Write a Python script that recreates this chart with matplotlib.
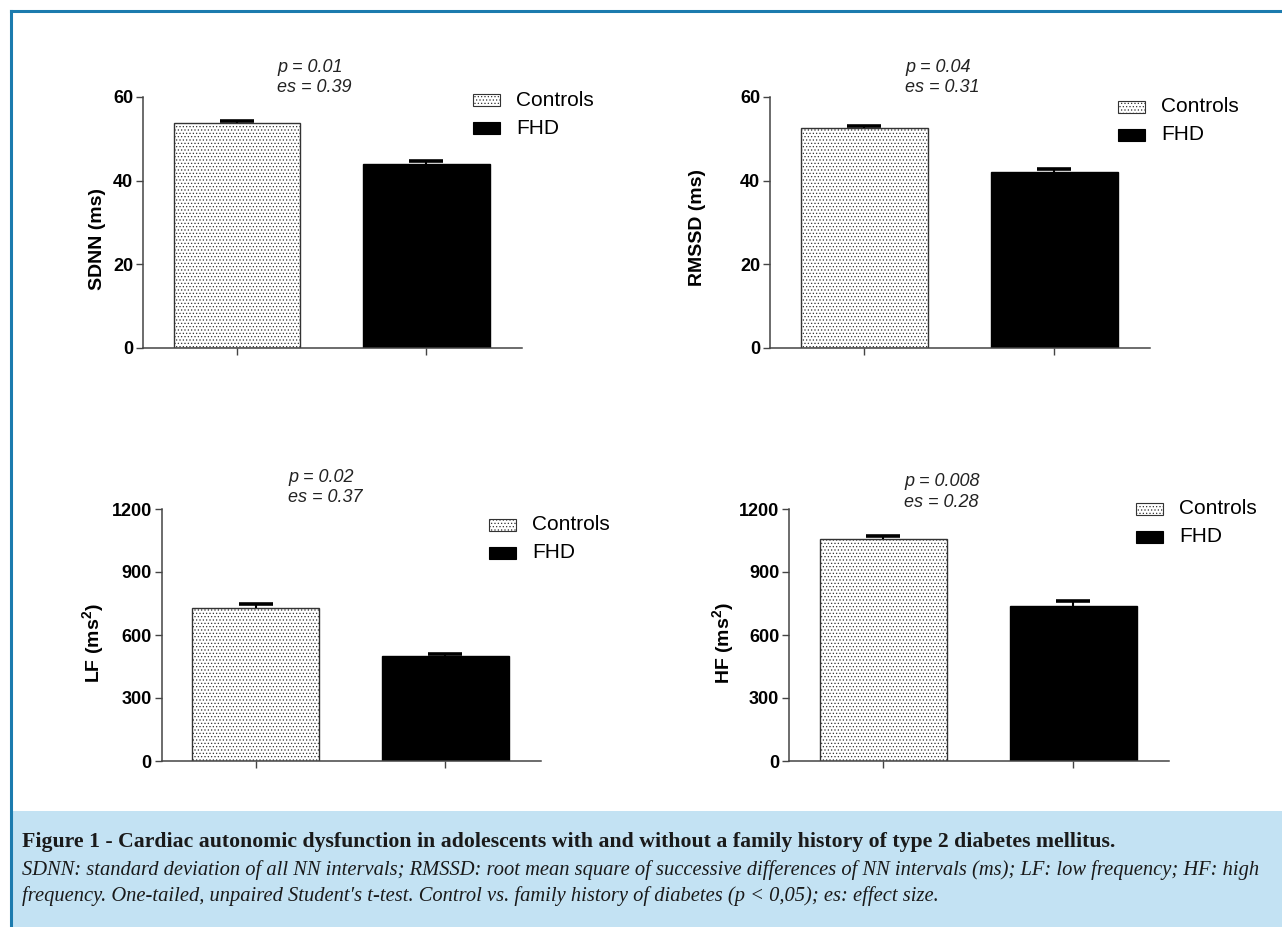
import matplotlib
matplotlib.use('Agg')
from matplotlib import pyplot as plt
from matplotlib.patches import Rectangle
from matplotlib.lines import Line2D

# valores (média e erro padrão)
groups = ['Controls', 'FHD']
sdnn = [53.7, 44.0]
sdnn_err = [0.5, 0.6]
rmssd = [52.5, 42.1]
rmssd_err = [0.5, 0.6]
lf = [730, 500]
lf_err = [16, 11]
hf = [1055, 740]
hf_err = [15, 20]

ylabels = ['SDNN (ms)', 'RMSSD (ms)', 'LF (ms$\\mathbf{^2}$)', 'HF (ms$\\mathbf{^2}$)']
p_texts = ['p = 0.01', 'p = 0.04', 'p = 0.02', 'p = 0.008']
es_texts = ['es = 0.39', 'es = 0.31', 'es = 0.37', 'es = 0.28']
yticks_small = [0, 20, 40, 60]
yticks_big = [0, 300, 600, 900, 1200]

caption_title = 'Figure 1 - Cardiac autonomic dysfunction in adolescents with and without a family history of type 2 diabetes mellitus.'
caption_l1 = ('SDNN: standard deviation of all NN intervals; RMSSD: root mean square of successive differences '
              'of NN intervals (ms); LF: low frequency; HF: high')
caption_l2 = ('frequency. One-tailed, unpaired Student\u2032s t-test. Control vs. family history of diabetes '
              '(p < 0,05); es: effect size.')

W, H = 1282, 927
plt.rcParams['font.family'] = ['Liberation Sans', 'DejaVu Sans']
plt.rcParams['hatch.linewidth'] = 0.5
plt.rcParams['mathtext.fontset'] = 'custom'
plt.rcParams['mathtext.bf'] = 'Liberation Sans:bold'

fig = plt.figure(figsize=(W / 100, H / 100), dpi=100)


def fx(px):
    return px / W


def fy(py):
    return 1 - py / H


# caixa da legenda e moldura
fig.patches.append(Rectangle((fx(12), 0), 1, fy(811), transform=fig.transFigure,
                             facecolor='#c3e2f3', edgecolor='none', zorder=0))
fig.lines.append(Line2D([fx(11), fx(11)], [0, fy(11)], transform=fig.transFigure,
                        color='#1c7bae', lw=2.2))
fig.lines.append(Line2D([fx(11), 1], [fy(11), fy(11)], transform=fig.transFigure,
                        color='#1c7bae', lw=2.2))

# (eixo x px, topo px, base px, fim px, legenda x, legenda y, anotacao x, anotacao y, rotulo x, rotulo y)
panels = [
    (143, 97, 348, 522, 473, 100, 277, 67, sdnn, sdnn_err, 60, yticks_small, 106, 239),
    (770, 97, 348, 1150, 1118, 107, 905, 67, rmssd, rmssd_err, 60, yticks_small, 706, 227),
    (161.5, 509, 761, 541, 489, 525, 288, 477, lf, lf_err, 1200, yticks_big, 106, 643),
    (789, 509, 761, 1169, 1136, 509, 904, 481, hf, hf_err, 1200, yticks_big, 736, 643),
]

axcol = '#444444'
dots = '.....'
for i, (x0, ytop, ybot, x1, lgx, lgy, anx, any_, vals, errs, ymax, yt, lbx, lby) in enumerate(panels):
    ax = fig.add_axes([fx(x0), fy(ybot), (x1 - x0) / W, (ybot - ytop) / H])
    bars = ax.bar([0, 1], vals, width=0.67, color=['white', 'black'],
                  edgecolor=['#333333', 'black'], linewidth=1.0, zorder=2)
    bars[0].set_hatch(dots)
    eb = ax.errorbar([0, 1], vals, yerr=[[0, 0], errs], fmt='none', ecolor='black',
                     elinewidth=1.5, capsize=12.5, capthick=2.6, zorder=3)
    for cl in eb[1]:
        if list(cl.get_ydata()) == list(vals):
            cl.set_visible(False)
    ax.set_xlim(-0.496, 1.504)
    ax.set_ylim(0, ymax)
    ax.set_yticks(yt)
    ax.set_xticks([0, 1])
    ax.set_xticklabels(['', ''])
    for s in ['top', 'right']:
        ax.spines[s].set_visible(False)
    for s in ['left', 'bottom']:
        ax.spines[s].set_color(axcol)
        ax.spines[s].set_linewidth(1.1)
    ax.tick_params(axis='both', colors=axcol, width=1.0, length=5, direction='out')
    ax.tick_params(axis='y', labelcolor='black', labelsize=13, pad=2)
    for lab in ax.get_yticklabels():
        lab.set_fontweight('bold')
    ax.set_ylabel(ylabels[i], fontsize=14, fontweight='bold')
    ax.yaxis.set_label_coords(fx(lbx), fy(lby), transform=fig.transFigure)
    ax.patch.set_alpha(0)

    # legenda manual
    for k, name in enumerate(groups):
        yy = lgy + k * 28
        r = Rectangle((fx(lgx), fy(yy + 6)), 27 / W, 12 / H, transform=fig.transFigure,
                      facecolor='white' if k == 0 else 'black',
                      edgecolor='#333333' if k == 0 else 'black', lw=0.8,
                      hatch=dots if k == 0 else None)
        fig.patches.append(r)
        fig.text(fx(lgx + 43), fy(yy), name, fontsize=15, va='center', ha='left')

    fig.text(fx(anx), fy(any_), p_texts[i], fontsize=13, style='italic', va='center', color='#222222')
    fig.text(fx(anx), fy(any_ + 21), es_texts[i], fontsize=13, style='italic', va='center', color='#222222')

fig.text(fx(22), fy(842), caption_title, fontsize=15.7, fontweight='bold', va='center',
         family=['Liberation Serif', 'DejaVu Serif'], color='#1a1a1a')
fig.text(fx(22), fy(870), caption_l1, fontsize=14.8, style='italic', va='center',
         family=['Liberation Serif', 'DejaVu Serif'], color='#1a1a1a')
fig.text(fx(22), fy(896), caption_l2, fontsize=14.8, style='italic', va='center',
         family=['Liberation Serif', 'DejaVu Serif'], color='#1a1a1a')

fig.savefig('out.png', dpi=100)
